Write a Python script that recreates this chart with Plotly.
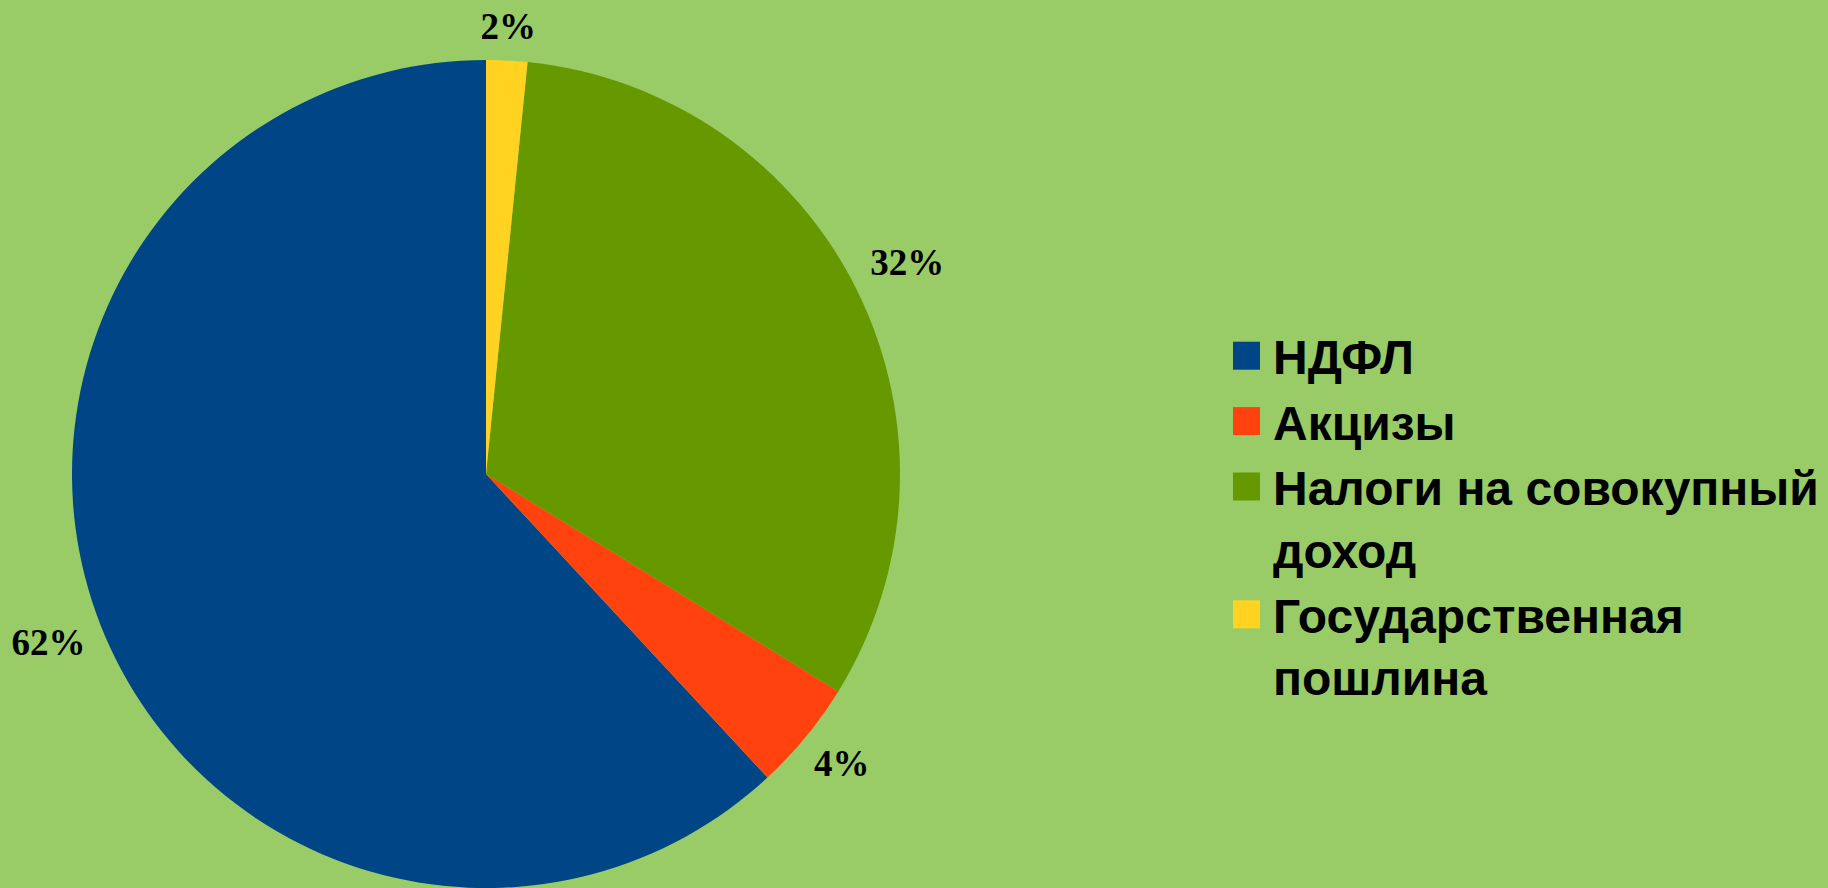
import math
import plotly.graph_objects as go

categories = ["НДФЛ", "Акцизы", "Налоги на совокупный<br>доход", "Государственная<br>пошлина"]
shares = [61.9, 4.3, 32.2, 1.6]
colors = ["#004586", "#ff420e", "#669900", "#ffd320"]

W, H = 1828, 888
# pie geometry in pixels (from top-left)
CX, CY, R = 486, 474, 414
DOM_X = [(CX - R) / W, (CX + R) / W]
DOM_Y = [(H - CY - R) / H, (H - CY + R) / H]

# overlay axes: unit circle == pie edge, extended so the outside labels fit
XR = [-1.16, 1.2]
YR = [-1.0, 1.12]
AX_DOM_X = [(CX + XR[0] * R) / W, (CX + XR[1] * R) / W]
AX_DOM_Y = [(H - CY + YR[0] * R) / H, (H - CY + YR[1] * R) / H]

LABEL_FS = 37
LABEL_GAP_PX = 17

total = sum(shares)
# counterclockwise layout with the first slice (НДФЛ) starting at 12 o'clock
start_rot = 360.0 * sum(shares[1:]) / total

# percentage labels, placed outside the pie along each slice's mid-angle
pct_text = [f"{round(100 * s / total)}%" for s in shares]
lab_x, lab_y = [], []
cum = 0.0
for s, t in zip(shares, pct_text):
    th = 360.0 * (cum + s / 2) / total          # counterclockwise from 12 o'clock
    cum += s
    w = 0.5 * LABEL_FS * (len(t) - 1) + 1.0 * LABEL_FS
    h = 0.68 * LABEL_FS
    a = math.radians(th)
    half_extent = (w / 2) * abs(math.sin(a)) + (h / 2) * abs(math.cos(a))
    r = (R + LABEL_GAP_PX + half_extent) / R
    lab_x.append(-r * math.sin(a))
    lab_y.append(r * math.cos(a))

fig = go.Figure()
fig.add_trace(go.Pie(
    labels=categories,
    values=shares,
    sort=False,
    direction="counterclockwise",
    rotation=start_rot,
    marker=dict(colors=colors, line=dict(width=0)),
    textinfo="none",
    domain=dict(x=DOM_X, y=DOM_Y),
    showlegend=True,
))
fig.add_trace(go.Scatter(
    x=lab_x,
    y=lab_y,
    mode="text",
    text=pct_text,
    textposition="middle center",
    textfont=dict(family="Liberation Serif, Times New Roman, serif", size=LABEL_FS, color="black", weight="bold"),
    cliponaxis=False,
    showlegend=False,
    hoverinfo="skip",
))

fig.update_layout(
    width=W, height=H,
    margin=dict(l=0, r=0, t=0, b=0),
    paper_bgcolor="#99cc66",
    plot_bgcolor="rgba(0,0,0,0)",
    xaxis=dict(domain=AX_DOM_X, range=XR, visible=False, showgrid=False, zeroline=False, fixedrange=True),
    yaxis=dict(domain=AX_DOM_Y, range=YR, visible=False, showgrid=False, zeroline=False, fixedrange=True),
    legend=dict(
        x=1233 / W, xanchor="left",
        y=1 - 318 / H, yanchor="top",
        valign="top",
        font=dict(family="Liberation Sans, Arial, sans-serif", size=48, color="black", weight="bold"),
        bgcolor="rgba(0,0,0,0)",
        tracegroupgap=0,
        itemclick=False, itemdoubleclick=False,
    ),
)

post = """
document.body.style.margin = '0';
document.body.style.padding = '0';
document.body.style.background = '#99cc66';
var gd = document.getElementById('{plot_id}');
function bigSwatches(){
  var ps = gd.querySelectorAll('.legendpoints path.legendpie');
  ps.forEach(function(p){ p.setAttribute('d','M7,14V-14H-21V14Z'); p.style.strokeWidth='0'; });
}
bigSwatches();
gd.on('plotly_afterplot', bigSwatches);
setTimeout(bigSwatches, 50);
"""

fig.write_html("out.html", post_script=post, config={"displayModeBar": False})
